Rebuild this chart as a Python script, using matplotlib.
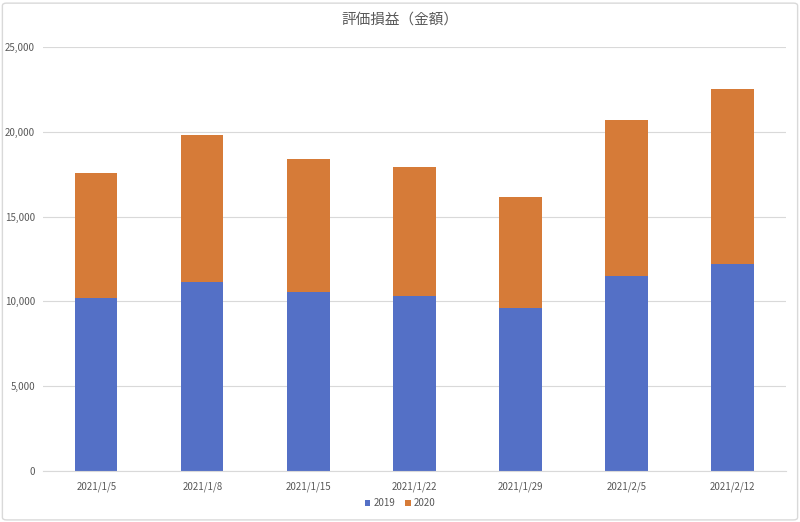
import matplotlib.pyplot as plt
from matplotlib.patches import FancyBboxPatch
import numpy as np

plt.rcParams['font.family'] = ['Noto Sans CJK JP', 'DejaVu Sans']

dates = ['2021/1/5', '2021/1/8', '2021/1/15', '2021/1/22', '2021/1/29', '2021/2/5', '2021/2/12']
v2019 = [10220, 11125, 10535, 10337, 9630, 11516, 12224]
v2020 = [7330, 8685, 7843, 7606, 6507, 9179, 10269]

fig = plt.figure(figsize=(8, 5.22), dpi=100)
ax = fig.add_axes([0.054, 0.098, 0.928, 0.812])

x = np.arange(len(dates))
ax.bar(x, v2019, width=0.4, color='#5470C6', label='2019', zorder=2)
ax.bar(x, v2020, width=0.4, bottom=v2019, color='#D67B38', label='2020', zorder=2)

ax.set_xlim(-0.5, len(dates) - 0.5)
ax.set_ylim(0, 25000)
ax.set_yticks(range(0, 25001, 5000))
ax.set_yticklabels([f'{v:,}' for v in range(0, 25001, 5000)])
ax.set_xticks(x)
ax.set_xticklabels(dates)
ax.tick_params(axis='x', length=0, labelsize=7, colors='#595959', pad=8)
ax.tick_params(axis='y', length=0, labelsize=7, colors='#595959', pad=6)
ax.grid(axis='y', color='#D9D9D9', linewidth=0.8, zorder=0)
for s in ['top', 'right', 'left']:
    ax.spines[s].set_visible(False)
ax.spines['bottom'].set_color('#D9D9D9')

fig.suptitle('評価損益（金額）', y=0.975, fontsize=10.5, color='#595959')
fig.legend(loc='lower center', bbox_to_anchor=(0.5, 0.01), ncol=2, frameon=False,
           fontsize=7, handlelength=0.6, handleheight=0.6, handletextpad=0.3,
           columnspacing=1.0, labelcolor='#595959')

fig.patches.append(FancyBboxPatch((0.003, 0.004), 0.994, 0.99, boxstyle='round,pad=0,rounding_size=0.005',
                                  transform=fig.transFigure, fill=False, edgecolor='#D9D9D9', linewidth=1))

fig.savefig('out.png', dpi=100)
